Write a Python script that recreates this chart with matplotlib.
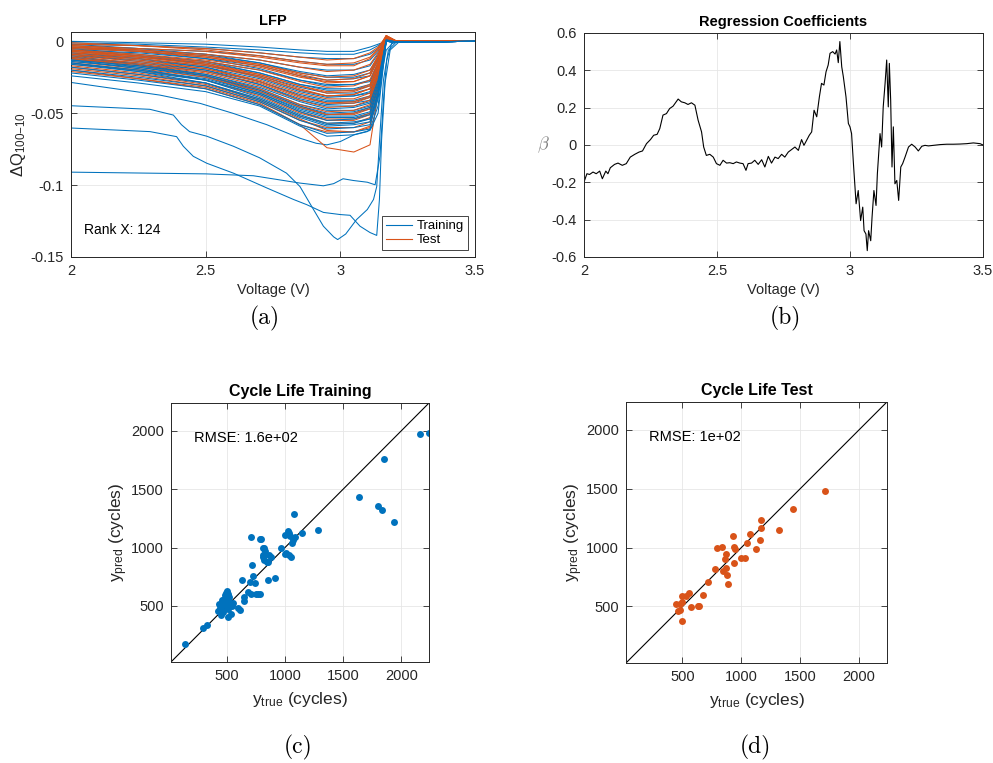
import matplotlib
matplotlib.use('Agg')
import matplotlib.pyplot as plt

plt.rcParams['font.family'] = ['Liberation Sans', 'DejaVu Sans']
plt.rcParams['axes.unicode_minus'] = False
plt.rcParams['mathtext.fontset'] = 'custom'
plt.rcParams['mathtext.rm'] = 'Liberation Sans'
plt.rcParams['mathtext.it'] = 'Liberation Sans:italic'

BLUE = '#0072BD'
ORANGE = '#D95319'
AXC = '#262626'

# ---------------- (a) LFP: delta Q curves ----------------
# values of dQ read at these voltages, one row per cell
bulk_v = [2.0, 2.25, 2.5, 2.7, 2.85, 2.95, 3.05, 3.11, 3.14, 3.17, 3.21, 3.5]

train_bulk = [
    [-0.000, -0.001, -0.002, -0.004, -0.006, -0.007, -0.007, -0.004, -0.002, 0.000, -0.0005, 0.0],
    [-0.001, -0.002, -0.004, -0.006, -0.008, -0.009, -0.009, -0.006, -0.003, 0.001, -0.0005, 0.0],
    [-0.002, -0.003, -0.005, -0.008, -0.011, -0.012, -0.012, -0.009, -0.005, 0.001, -0.0005, 0.0],
    [-0.003, -0.005, -0.007, -0.010, -0.014, -0.016, -0.016, -0.013, -0.007, 0.001, -0.0005, 0.0],
    [-0.004, -0.006, -0.009, -0.013, -0.018, -0.020, -0.020, -0.017, -0.009, 0.001, -0.0005, 0.0],
    [-0.005, -0.007, -0.010, -0.015, -0.021, -0.024, -0.023, -0.020, -0.011, 0.000, -0.0005, 0.0],
    [-0.006, -0.008, -0.012, -0.017, -0.024, -0.027, -0.026, -0.024, -0.013, 0.001, -0.0005, 0.0],
    [-0.007, -0.010, -0.014, -0.020, -0.027, -0.030, -0.030, -0.027, -0.015, 0.000, -0.0005, 0.0],
    [-0.008, -0.011, -0.015, -0.022, -0.030, -0.033, -0.033, -0.030, -0.017, 0.001, -0.0005, 0.0],
    [-0.009, -0.012, -0.017, -0.024, -0.032, -0.036, -0.036, -0.033, -0.019, 0.000, -0.0005, 0.0],
    [-0.010, -0.013, -0.018, -0.026, -0.035, -0.039, -0.038, -0.036, -0.021, 0.001, -0.0005, 0.0],
    [-0.011, -0.015, -0.020, -0.028, -0.037, -0.041, -0.041, -0.038, -0.023, 0.000, -0.0005, 0.0],
    [-0.012, -0.016, -0.021, -0.030, -0.040, -0.044, -0.043, -0.041, -0.025, 0.001, -0.0005, 0.0],
    [-0.013, -0.017, -0.023, -0.032, -0.042, -0.047, -0.046, -0.043, -0.027, 0.000, -0.0005, 0.0],
    [-0.014, -0.018, -0.024, -0.034, -0.045, -0.050, -0.049, -0.046, -0.029, 0.001, -0.0005, 0.0],
    [-0.015, -0.020, -0.026, -0.036, -0.047, -0.052, -0.052, -0.049, -0.031, 0.000, -0.0005, 0.0],
    [-0.016, -0.021, -0.027, -0.037, -0.049, -0.055, -0.054, -0.051, -0.033, 0.001, -0.0005, 0.0],
    [-0.018, -0.023, -0.029, -0.040, -0.052, -0.058, -0.057, -0.054, -0.036, 0.000, -0.0005, 0.0],
    [-0.020, -0.025, -0.031, -0.042, -0.055, -0.061, -0.060, -0.058, -0.040, 0.000, -0.0005, 0.0],
    [-0.022, -0.027, -0.033, -0.044, -0.058, -0.064, -0.063, -0.061, -0.045, 0.000, -0.0005, 0.0],
    [-0.024, -0.029, -0.035, -0.045, -0.059, -0.066, -0.065, -0.062, -0.050, 0.000, -0.0005, 0.0],
    [-0.002, -0.005, -0.009, -0.015, -0.022, -0.025, -0.025, -0.022, -0.012, 0.001, -0.0005, 0.0],
    [-0.004, -0.007, -0.012, -0.019, -0.027, -0.031, -0.030, -0.028, -0.016, 0.000, -0.0005, 0.0],
    [-0.005, -0.009, -0.014, -0.022, -0.030, -0.034, -0.034, -0.031, -0.018, 0.001, -0.0005, 0.0],
    [-0.006, -0.010, -0.016, -0.025, -0.034, -0.038, -0.038, -0.035, -0.021, 0.000, -0.0005, 0.0],
    [-0.008, -0.012, -0.018, -0.028, -0.038, -0.042, -0.042, -0.039, -0.024, 0.001, -0.0005, 0.0],
    [-0.009, -0.014, -0.020, -0.030, -0.041, -0.045, -0.045, -0.042, -0.026, 0.000, -0.0005, 0.0],
    [-0.011, -0.016, -0.023, -0.033, -0.044, -0.048, -0.048, -0.045, -0.029, 0.001, -0.0005, 0.0],
    [-0.012, -0.018, -0.025, -0.036, -0.048, -0.053, -0.053, -0.050, -0.032, 0.000, -0.0005, 0.0],
    [-0.013, -0.019, -0.027, -0.039, -0.051, -0.057, -0.056, -0.054, -0.036, 0.000, -0.0005, 0.0],
    [-0.010, -0.016, -0.024, -0.035, -0.046, -0.051, -0.050, -0.047, -0.030, 0.000, -0.0005, 0.0],
    [-0.015, -0.021, -0.029, -0.041, -0.053, -0.059, -0.058, -0.056, -0.038, 0.000, -0.0005, 0.0],
]

test_bulk = [
    [-0.002, -0.003, -0.005, -0.008, -0.011, -0.013, -0.012, -0.008, -0.004, 0.003, 0.0, 0.0],
    [-0.003, -0.005, -0.007, -0.011, -0.015, -0.017, -0.017, -0.012, -0.006, 0.004, 0.0, 0.0],
    [-0.004, -0.006, -0.009, -0.013, -0.018, -0.021, -0.020, -0.016, -0.008, 0.003, 0.0, 0.0],
    [-0.005, -0.007, -0.011, -0.016, -0.022, -0.025, -0.024, -0.020, -0.010, 0.003, 0.0, 0.0],
    [-0.006, -0.009, -0.013, -0.018, -0.025, -0.028, -0.028, -0.024, -0.012, 0.004, 0.0, 0.0],
    [-0.007, -0.010, -0.014, -0.020, -0.028, -0.032, -0.031, -0.027, -0.014, 0.003, 0.0, 0.0],
    [-0.008, -0.011, -0.016, -0.023, -0.031, -0.035, -0.034, -0.030, -0.016, 0.003, 0.0, 0.0],
    [-0.009, -0.012, -0.017, -0.025, -0.034, -0.038, -0.037, -0.033, -0.018, 0.002, 0.0, 0.0],
    [-0.010, -0.014, -0.019, -0.027, -0.036, -0.040, -0.040, -0.036, -0.020, 0.003, 0.0, 0.0],
    [-0.011, -0.015, -0.021, -0.029, -0.039, -0.043, -0.043, -0.039, -0.022, 0.002, 0.0, 0.0],
    [-0.012, -0.016, -0.022, -0.031, -0.041, -0.046, -0.045, -0.041, -0.024, 0.003, 0.0, 0.0],
    [-0.013, -0.017, -0.024, -0.033, -0.044, -0.049, -0.048, -0.044, -0.026, 0.002, 0.0, 0.0],
    [-0.014, -0.019, -0.025, -0.035, -0.046, -0.051, -0.051, -0.047, -0.028, 0.002, 0.0, 0.0],
    [-0.016, -0.020, -0.027, -0.037, -0.049, -0.054, -0.054, -0.050, -0.030, 0.002, 0.0, 0.0],
    [-0.017, -0.022, -0.029, -0.040, -0.052, -0.057, -0.057, -0.053, -0.032, 0.002, 0.0, 0.0],
    [-0.019, -0.024, -0.031, -0.042, -0.055, -0.060, -0.060, -0.056, -0.034, 0.002, 0.0, 0.0],
    [-0.021, -0.026, -0.033, -0.044, -0.058, -0.063, -0.063, -0.059, -0.036, 0.001, 0.0, 0.0],
    [-0.003, -0.006, -0.010, -0.016, -0.023, -0.027, -0.026, -0.022, -0.010, 0.003, 0.0, 0.0],
    [-0.006, -0.010, -0.015, -0.023, -0.031, -0.036, -0.035, -0.031, -0.015, 0.003, 0.0, 0.0],
    [-0.009, -0.013, -0.019, -0.028, -0.038, -0.043, -0.042, -0.038, -0.020, 0.002, 0.0, 0.0],
    [-0.012, -0.017, -0.024, -0.034, -0.045, -0.051, -0.050, -0.046, -0.026, 0.002, 0.0, 0.0],
    [-0.001, -0.003, -0.006, -0.010, -0.014, -0.016, -0.015, -0.011, -0.005, 0.004, 0.0, 0.0],
    [-0.004, -0.007, -0.011, -0.017, -0.024, -0.029, -0.028, -0.024, -0.011, 0.003, 0.0, 0.0],
    [-0.007, -0.011, -0.016, -0.024, -0.033, -0.038, -0.037, -0.033, -0.017, 0.003, 0.0, 0.0],
    [-0.015, -0.020, -0.027, -0.038, -0.050, -0.055, -0.055, -0.051, -0.029, 0.002, 0.0, 0.0],
    [-0.018, -0.023, -0.030, -0.041, -0.054, -0.062, -0.063, -0.060, -0.033, 0.002, 0.0, 0.0],
    [-0.020, -0.026, -0.032, -0.043, -0.058, -0.074, -0.077, -0.072, -0.036, 0.003, 0.0, 0.0],
]

# the few training cells that sit far below the bundle
flat_v = [2.0, 2.5, 2.677, 2.85, 2.937, 2.975, 3.01, 3.048, 3.1, 3.129, 3.147, 3.16, 3.172, 3.19, 3.22, 3.5]
flat_q = [-0.091, -0.0922, -0.0935, -0.0986, -0.1005, -0.099, -0.0956, -0.0968, -0.098, -0.0998, -0.080, -0.041, -0.013, -0.0016, 0.0, 0.0]

knee_v = [2.0, 2.293, 2.392, 2.417, 2.454, 2.504, 2.603, 2.727, 2.826, 2.875, 2.937, 3.0, 3.036, 3.073, 3.11, 3.135, 3.145, 3.153, 3.166, 3.185, 3.22, 3.5]
knee_q = [-0.0603, -0.0628, -0.0663, -0.073, -0.080, -0.0848, -0.0917, -0.102, -0.110, -0.1136, -0.119, -0.1205, -0.121, -0.1286, -0.133, -0.135, -0.110, -0.0686, -0.029, -0.006, 0.0, 0.0]

deep_v = [2.0, 2.293, 2.38, 2.41, 2.44, 2.504, 2.603, 2.70, 2.80, 2.85, 2.894, 2.937, 2.975, 2.99, 3.02, 3.06, 3.1, 3.123, 3.135, 3.147, 3.16, 3.178, 3.21, 3.5]
deep_q = [-0.0448, -0.0473, -0.0513, -0.058, -0.0628, -0.066, -0.073, -0.081, -0.0917, -0.101, -0.115, -0.1286, -0.136, -0.1379, -0.134, -0.124, -0.117, -0.110, -0.101, -0.064, -0.027, -0.0062, 0.0, 0.0]

mid_v = [2.0, 2.33, 2.48, 2.6, 2.727, 2.85, 2.91, 2.95, 3.0, 3.05, 3.1, 3.12, 3.147, 3.17, 3.2, 3.5]
mid_q = [-0.0286, -0.0374, -0.0432, -0.050, -0.058, -0.0674, -0.0709, -0.072, -0.0697, -0.0651, -0.0628, -0.059, -0.029, -0.0062, 0.0, 0.0]

# ---------------- (b) regression coefficients ----------------
beta_v = [2.000, 2.011, 2.021, 2.034, 2.046, 2.059, 2.069, 2.082, 2.090, 2.099, 2.115, 2.128, 2.144, 2.159,
          2.174, 2.191, 2.207, 2.220, 2.235, 2.250, 2.262, 2.275, 2.285, 2.297, 2.310, 2.322, 2.335, 2.354,
          2.366, 2.379, 2.391, 2.404, 2.417, 2.429, 2.442, 2.450, 2.460, 2.473, 2.486, 2.498, 2.511, 2.523,
          2.536, 2.548, 2.561, 2.573, 2.586, 2.598, 2.609, 2.617, 2.630, 2.642, 2.655, 2.668, 2.680, 2.693,
          2.705, 2.718, 2.730, 2.743, 2.755, 2.768, 2.780, 2.793, 2.806, 2.818, 2.827, 2.837, 2.847, 2.856,
          2.865, 2.875, 2.885, 2.893, 2.902, 2.910, 2.918, 2.925, 2.935, 2.944, 2.950, 2.956, 2.962, 2.969,
          2.975, 2.985, 2.994, 3.000, 3.006, 3.013, 3.023, 3.031, 3.040, 3.048, 3.053, 3.060, 3.065, 3.070,
          3.078, 3.083, 3.090, 3.098, 3.103, 3.107, 3.113, 3.119, 3.125, 3.132, 3.138, 3.144, 3.148, 3.153,
          3.158, 3.163, 3.169, 3.176, 3.183, 3.191, 3.198, 3.207, 3.220, 3.232, 3.245, 3.257, 3.270, 3.282,
          3.295, 3.314, 3.339, 3.364, 3.389, 3.414, 3.439, 3.464, 3.489, 3.500]
beta = [-0.199, -0.154, -0.158, -0.145, -0.154, -0.140, -0.181, -0.140, -0.154, -0.122, -0.104, -0.097, -0.109, -0.100,
        -0.065, -0.050, -0.038, -0.032, 0.007, 0.029, 0.052, 0.057, 0.088, 0.160, 0.168, 0.195, 0.208, 0.246,
        0.231, 0.226, 0.217, 0.226, 0.213, 0.133, 0.070, -0.011, -0.056, -0.050, -0.065, -0.100, -0.109, -0.082,
        -0.097, -0.095, -0.100, -0.091, -0.097, -0.100, -0.136, -0.100, -0.097, -0.082, -0.104, -0.079, -0.118, -0.061,
        -0.097, -0.065, -0.073, -0.050, -0.065, -0.038, -0.025, -0.011, -0.029, 0.029, -0.002, 0.025, 0.052, 0.070,
        0.186, 0.151, 0.258, 0.330, 0.321, 0.392, 0.428, 0.491, 0.500, 0.487, 0.509, 0.441, 0.554, 0.419,
        0.366, 0.258, 0.115, 0.097, 0.061, -0.100, -0.315, -0.244, -0.405, -0.333, -0.459, -0.477, -0.566, -0.459,
        -0.513, -0.387, -0.244, -0.324, -0.154, -0.065, 0.061, -0.011, 0.204, 0.330, 0.455, 0.204, 0.437, 0.240,
        -0.118, 0.097, -0.208, -0.190, -0.297, -0.118, -0.100, -0.065, -0.011, 0.004, -0.011, -0.032, -0.007, -0.002,
        -0.005, -0.002, 0.002, 0.004, 0.004, 0.005, 0.007, 0.011, 0.007, 0.000]

# ---------------- (c), (d) cycle life ----------------
train_true = [140, 294, 329, 2163, 2237, 1854, 1637, 1800, 1837, 1934,
              1074, 1280, 1143, 1023, 1000, 1043, 1086, 1057, 1070, 1030,
              963, 1000, 1049, 1037, 1008,
              709, 786, 794, 814, 829, 811, 823, 866, 877, 849, 857, 808, 820,
              717, 726, 700, 740, 634, 857, 914,
              680, 706, 751, 786, 770, 649, 649, 600, 614, 557, 534, 509,
              451, 457, 420, 431, 457, 477, 491, 500, 514, 520, 486, 471, 505, 495, 530, 540, 470, 445, 510, 482, 500, 520, 460]
train_pred = [170, 310, 335, 1974, 1980, 1761, 1435, 1355, 1318, 1216,
              1287, 1148, 1125, 1139, 1105, 1099, 1088, 1037, 1060, 1120,
              997, 946, 923, 934, 949,
              1091, 1071, 1075, 997, 969, 918, 895, 940, 918, 875, 877, 934, 1000,
              852, 759, 702, 696, 722, 719, 736,
              616, 599, 599, 605, 600, 577, 543, 480, 469, 523, 435, 401,
              418, 463, 460, 517, 548, 562, 614, 591, 606, 575, 506, 449, 560, 540, 520, 500, 530, 480, 470, 590, 630, 530, 500]

test_true = [1713, 1438, 1164, 1170, 1321, 1071, 931, 1161, 1046, 1122, 940, 946, 836, 794, 870, 861, 999, 1027, 940,
             780, 847, 866, 878, 884, 718, 676, 553, 497, 528, 500, 444, 483, 461, 483, 573, 629, 640, 497]
test_pred = [1480, 1330, 1237, 1166, 1149, 1112, 1095, 1064, 1038, 984, 1007, 987, 1007, 993, 948, 905, 911, 911, 871,
             814, 803, 826, 766, 693, 707, 599, 616, 591, 585, 540, 520, 523, 460, 470, 492, 506, 508, 378]

life_lim = [20, 2237]
life_ticks = [500, 1000, 1500, 2000]


def matlab_style(ax):
    ax.tick_params(direction='in', top=True, right=True, length=4, width=0.6,
                   colors=AXC, labelsize=10.5, pad=5)
    for s in ax.spines.values():
        s.set_color(AXC)
        s.set_linewidth(0.7)
    ax.grid(True, color='#e6e6e6', linewidth=0.6)
    ax.set_axisbelow(True)


fig = plt.figure(figsize=(9.93, 7.63), dpi=100)

# (a) upper training curves sit under the test ones, lower ones on top
ax1 = fig.add_axes([0.0715, 0.6632, 0.4069, 0.2949])
for row in train_bulk:
    z = 2.0 if row[0] > -0.013 else 2.6
    ax1.plot(bulk_v, row, color=BLUE, lw=0.75, zorder=z)
for row in test_bulk:
    ax1.plot(bulk_v, row, color=ORANGE, lw=0.75, zorder=2.3)
ax1.plot(flat_v, flat_q, color=BLUE, lw=0.75)
ax1.plot(knee_v, knee_q, color=BLUE, lw=0.75)
ax1.plot(deep_v, deep_q, color=BLUE, lw=0.75)
ax1.plot(mid_v, mid_q, color=BLUE, lw=0.75)
h_tr, = ax1.plot([], [], color=BLUE, lw=0.8, label='Training')
h_te, = ax1.plot([], [], color=ORANGE, lw=0.8, label='Test')
ax1.set_xlim(2, 3.5)
ax1.set_ylim(-0.15, 0.0065)
ax1.set_xticks([2, 2.5, 3, 3.5])
ax1.set_xticklabels(['2', '2.5', '3', '3.5'])
ax1.set_yticks([-0.15, -0.1, -0.05, 0])
ax1.set_yticklabels(['-0.15', '-0.1', '-0.05', '0'])
matlab_style(ax1)
ax1.set_title('LFP', fontsize=10.5, fontweight='bold', pad=5)
ax1.set_xlabel('Voltage (V)', fontsize=10.5, color=AXC)
ax1.set_ylabel(r'ΔQ$_{100\mathrm{-}10}$', fontsize=12, color=AXC, labelpad=2)
ax1.text(0.033, 0.1, 'Rank X: 124', transform=ax1.transAxes, fontsize=10, color='black')
leg = ax1.legend(handles=[h_tr, h_te], loc='lower right', fontsize=9.5, fancybox=False,
                 edgecolor=AXC, framealpha=1, borderpad=0.3, handlelength=2.0,
                 handletextpad=0.4, labelspacing=0.15, borderaxespad=0.5)
leg.get_frame().set_linewidth(0.6)
leg.set_zorder(5)

# (b)
ax2 = fig.add_axes([0.5881, 0.6632, 0.4018, 0.2936])
ax2.plot(beta_v, beta, color='black', lw=0.8)
ax2.set_xlim(2, 3.5)
ax2.set_ylim(-0.6, 0.6)
ax2.set_xticks([2, 2.5, 3, 3.5])
ax2.set_xticklabels(['2', '2.5', '3', '3.5'])
ax2.set_yticks([-0.6, -0.4, -0.2, 0, 0.2, 0.4, 0.6])
ax2.set_yticklabels(['-0.6', '-0.4', '-0.2', '0', '0.2', '0.4', '0.6'])
matlab_style(ax2)
ax2.set_title('Regression Coefficients', fontsize=10.5, fontweight='bold', pad=5)
ax2.set_xlabel('Voltage (V)', fontsize=10.5, color=AXC)
ax2.set_ylabel(r'$\beta$', fontsize=13, color='#808080', rotation=0, labelpad=6,
               math_fontfamily='cm', va='center')

# (c) and (d)
panels = [
    ([0.1722, 0.1324, 0.2598, 0.3394], train_true, train_pred, BLUE, 'Cycle Life Training', 'RMSE: 1.6e+02'),
    ([0.6304, 0.1311, 0.2628, 0.3421], test_true, test_pred, ORANGE, 'Cycle Life Test', 'RMSE: 1e+02'),
]
for rect, yt, yp, col, title, rmse in panels:
    ax = fig.add_axes(rect)
    ax.plot(life_lim, life_lim, color='black', lw=0.8)
    ax.plot(yt, yp, 'o', color=col, ms=5, mec=col, mew=0)
    ax.set_xlim(life_lim)
    ax.set_ylim(life_lim)
    ax.set_xticks(life_ticks)
    ax.set_yticks(life_ticks)
    matlab_style(ax)
    ax.set_title(title, fontsize=11.5, fontweight='bold', pad=5)
    ax.set_xlabel(r'y$_{\mathrm{true}}$ (cycles)', fontsize=12.5, color=AXC, labelpad=5)
    ax.set_ylabel(r'y$_{\mathrm{pred}}$ (cycles)', fontsize=12.5, color=AXC, labelpad=1)
    ax.text(0.09, 0.85, rmse, transform=ax.transAxes, fontsize=10.5, color='black')

# panel letters
for x, y, s in [(0.2669, 0.583, '(a)'), (0.7905, 0.583, '(b)'), (0.3001, 0.021, '(c)'), (0.7603, 0.021, '(d)')]:
    fig.text(x, y, s, family='cmr10', fontsize=17, ha='center', va='center')

fig.savefig('out.png', dpi=100)
